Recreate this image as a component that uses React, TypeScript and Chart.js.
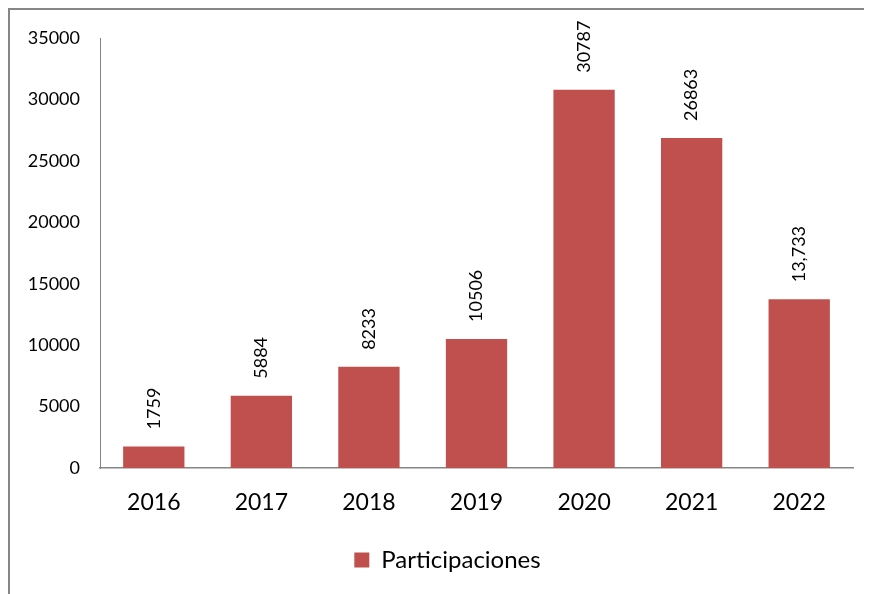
import React, { useEffect, useRef } from "react";
import { Chart, registerables } from "chart.js";

Chart.register(...registerables);

const categories = ["2016", "2017", "2018", "2019", "2020", "2021", "2022"];
const values = [1759, 5884, 8233, 10506, 30787, 26863, 13733];
const valueLabels = ["1759", "5884", "8233", "10506", "30787", "26863", "13,733"];
const seriesName = "Participaciones";
const yMax = 35000;
const yStep = 5000;
const titleText = "Gráfica 3.2 IV";

const FONT = "Lato, 'Open Sans', sans-serif";
const BAR = "#C0504D";
const AXIS = "#868686";

const valueLabelPlugin = {
  id: "valueLabels",
  afterLayout(chart: any) {
    if (chart.legend) chart.legend.left += 42;
  },
  afterDraw(chart: any) {
    const ctx = chart.ctx;
    const meta = chart.getDatasetMeta(0);
    ctx.save();
    ctx.fillStyle = "#000000";
    ctx.font = `18px ${FONT}`;
    ctx.textAlign = "left";
    ctx.textBaseline = "middle";
    meta.data.forEach((bar: any, i: number) => {
      ctx.save();
      ctx.translate(bar.x, bar.y - 17);
      ctx.rotate(-Math.PI / 2);
      ctx.fillText(valueLabels[i], 0, 0);
      ctx.restore();
    });
    ctx.restore();
    // cropped title: only the lower part shows above the frame
    ctx.save();
    ctx.fillStyle = "#000000";
    ctx.font = `bold 26px ${FONT}`;
    ctx.textAlign = "center";
    ctx.textBaseline = "alphabetic";
    ctx.fillText(titleText, 449, 5);
    ctx.restore();
  },
};

export default function App() {
  const ref = useRef<HTMLCanvasElement | null>(null);
  useEffect(() => {
    if (!ref.current) return;
    const chart = new Chart(ref.current, {
      type: "bar",
      data: {
        labels: categories,
        datasets: [
          {
            label: seriesName,
            data: values,
            backgroundColor: BAR,
            borderWidth: 0,
            barPercentage: 0.57,
            categoryPercentage: 1,
          },
        ],
      },
      options: {
        responsive: false,
        animation: false,
        layout: { padding: { top: 38, right: 19, bottom: 12, left: 0 } },
        plugins: {
          legend: {
            position: "bottom",
            labels: {
              boxWidth: 15,
              boxHeight: 15,
              padding: 10,
              color: "#000",
              font: { family: FONT, size: 24 },
            },
          },
          tooltip: { enabled: false },
          title: { display: false },
        },
        scales: {
          x: {
            grid: { display: false, drawTicks: false },
            border: { display: true, color: AXIS, width: 1.5 },
            ticks: { color: "#000", padding: 21, font: { family: FONT, size: 23 } },
            afterFit(scale: any) {
              scale.height = 70;
            },
          },
          y: {
            min: 0,
            max: yMax,
            grid: { display: false, drawTicks: false },
            border: { display: true, color: AXIS, width: 1 },
            ticks: {
              stepSize: yStep,
              color: "#000",
              padding: 20,
              font: { family: FONT, size: 18 },
              callback: (v: any) => String(v),
            },
            afterFit(scale: any) {
              scale.width = 100;
            },
          },
        },
      },
      plugins: [valueLabelPlugin],
    });
    return () => chart.destroy();
  }, []);

  return (
    <div
      style={{
        position: "relative",
        width: 864,
        height: 586,
        borderTop: `2px solid ${AXIS}`,
        borderLeft: `2px solid ${AXIS}`,
        boxSizing: "border-box",
      }}
    >
      <canvas
        ref={ref}
        width={872}
        height={594}
        style={{ position: "absolute", left: -10, top: -10, width: 872, height: 594 }}
      />
    </div>
  );
}
